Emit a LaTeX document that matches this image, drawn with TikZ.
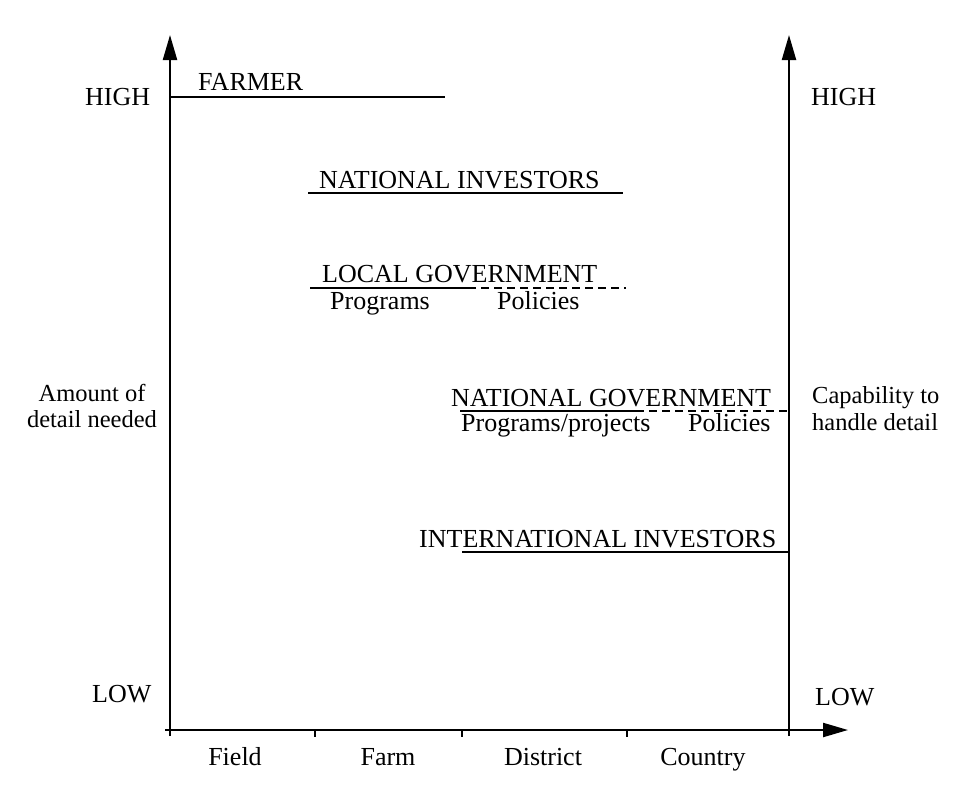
\documentclass[tikz,border=0pt]{standalone}
\usepackage{fontspec}
\setmainfont{Liberation Serif}
\usetikzlibrary{arrows.meta}
\begin{document}
\begin{tikzpicture}[x=1pt,y=-1pt,
  axis/.style={line width=2.2pt},
  arr/.style={-{Triangle[length=25pt,width=14pt]}},
  lvl/.style={line width=2.2pt},
  dsh/.style={line width=1.8pt, dash pattern=on 8pt off 5pt},
  lbl/.style={font=\fontsize{26}{28}\selectfont, inner sep=0pt, anchor=base west},
  ctr/.style={font=\fontsize{26}{28}\selectfont, inner sep=0pt, anchor=base},
  side/.style={font=\fontsize{24.5}{26}\selectfont, inner sep=0pt},
  tick/.style={line width=1.6pt}
]
\useasboundingbox (0,0) rectangle (953,788);
% axes
\coordinate (ybot) at (170,736);
\coordinate (ytop) at (170,35);
\coordinate (rbot) at (789,736);
\coordinate (rtop) at (789,35);
\coordinate (xl) at (165,730);
\coordinate (xr) at (848,730);
\draw[axis,arr] (ybot) -- (ytop);
\draw[axis,arr] (rbot) -- (rtop);
\draw[axis,arr] (xl) -- (xr);
% ticks
\foreach \n/\x in {a/315,b/462,c/627}{
  \coordinate (t\n1) at (\x,730);
  \coordinate (t\n2) at (\x,737);
  \draw[tick] (t\n1) -- (t\n2);
}
% level lines
\coordinate (f1) at (170,97);  \coordinate (f2) at (445,97);
\draw[lvl] (f1) -- (f2);
\coordinate (n1) at (308,193); \coordinate (n2) at (623,193);
\draw[lvl] (n1) -- (n2);
\coordinate (l1) at (310,288); \coordinate (l2) at (468,288); \coordinate (l3) at (626,288);
\draw[lvl] (l1) -- (l2);
\draw[dsh] (l2) -- (l3);
\coordinate (g1) at (460,411); \coordinate (g2) at (636,411); \coordinate (g3) at (789,411);
\draw[lvl] (g1) -- (g2);
\draw[dsh] (g2) -- (g3);
\coordinate (i1) at (462,552); \coordinate (i2) at (789,552);
\draw[lvl] (i1) -- (i2);
% level labels
\node[lbl] (farmer) at (198,90) {FARMER};
\node[lbl] (natinv) at (319,188) {NATIONAL INVESTORS};
\node[lbl] (locgov) at (322,282) {LOCAL GOVERNMENT};
\node[lbl] (locprog) at (330,309) {Programs};
\node[lbl] (locpol) at (497,309) {Policies};
\node[lbl] (natgov) at (451,406) {NATIONAL GOVERNMENT};
\node[lbl] (natprog) at (461,431) {Programs/projects};
\node[lbl] (natpol) at (688,431) {Policies};
\node[lbl] (intinv) at (419,547) {INTERNATIONAL INVESTORS};
% axis labels
\node[lbl] (highl) at (85,105) {HIGH};
\node[lbl] (highr) at (811,105) {HIGH};
\node[lbl] (lowl) at (92,702) {LOW};
\node[lbl] (lowr) at (815,705) {LOW};
\node[side, anchor=base] (amt1) at (92,401) {Amount of};
\node[side, anchor=base] (amt2) at (92,427) {detail needed};
\node[side, anchor=base west] (cap1) at (812,403) {Capability to};
\node[side, anchor=base west] (cap2) at (812,430) {handle detail};
\node[ctr] (field) at (235,765) {Field};
\node[ctr] (farm) at (388,765) {Farm};
\node[ctr] (district) at (543,765) {District};
\node[ctr] (country) at (703,765) {Country};
\end{tikzpicture}
\end{document}
